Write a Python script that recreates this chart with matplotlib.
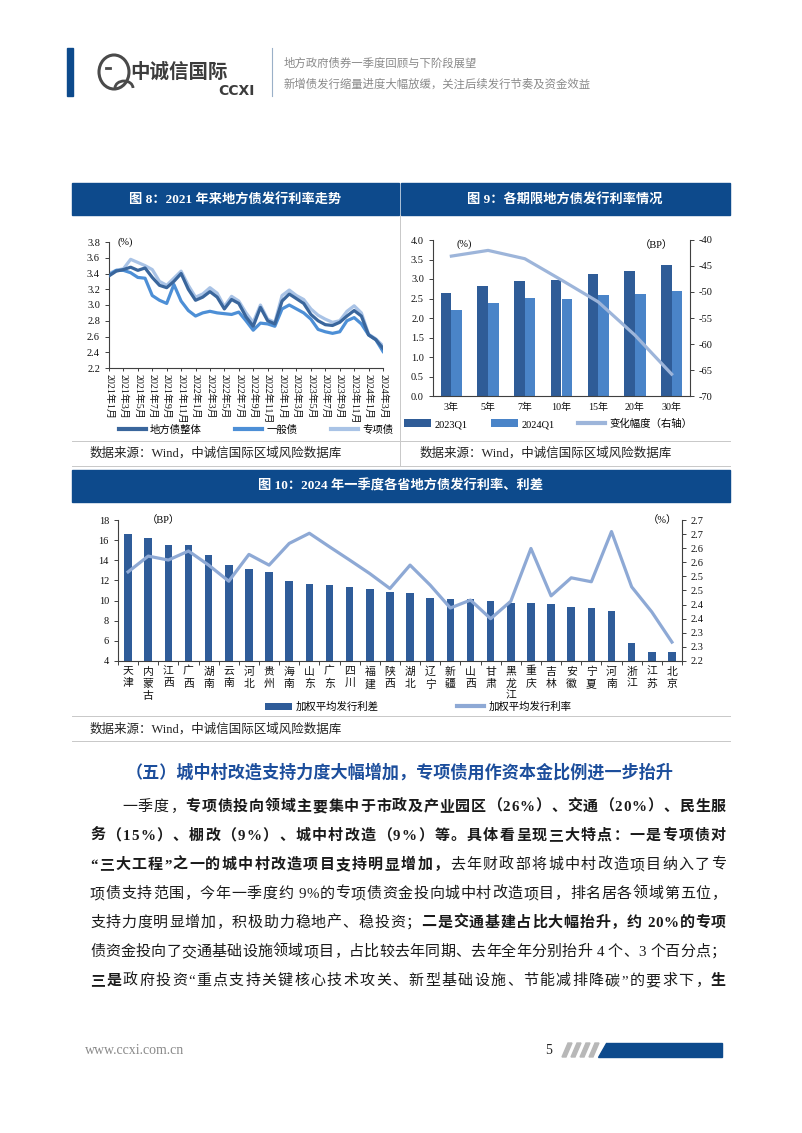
import numpy as np
import matplotlib.pyplot as plt
from matplotlib.patches import Rectangle, Polygon, Ellipse, Arc

plt.rcParams['font.family'] = ['Liberation Serif', 'Noto Sans CJK SC']
plt.rcParams['axes.unicode_minus'] = False

W, H = 802, 1133

# ---- 图8 data (monthly, 2021-01 .. 2024-03)
month_ticks = ['2021年1月', '2021年3月', '2021年5月', '2021年7月', '2021年9月', '2021年11月',
               '2022年1月', '2022年3月', '2022年5月', '2022年7月', '2022年9月', '2022年11月',
               '2023年1月', '2023年3月', '2023年5月', '2023年7月', '2023年9月', '2023年11月',
               '2024年1月', '2024年3月']
rate_all = [3.37, 3.43, 3.45, 3.48, 3.44, 3.47, 3.35, 3.25, 3.22, 3.30, 3.40, 3.20,
            3.06, 3.10, 3.17, 3.10, 2.95, 3.07, 3.02, 2.85, 2.73, 2.97, 2.80, 2.76,
            3.05, 3.14, 3.08, 3.02, 2.88, 2.80, 2.75, 2.74, 2.78, 2.86, 2.93, 2.86,
            2.62, 2.56, 2.45]
rate_general = [3.38, 3.44, 3.44, 3.41, 3.35, 3.34, 3.12, 3.06, 3.02, 3.26, 3.05, 2.93,
                2.86, 2.90, 2.92, 2.90, 2.89, 2.88, 2.91, 2.80, 2.68, 2.77, 2.76, 2.73,
                2.95, 3.00, 2.95, 2.90, 2.82, 2.69, 2.66, 2.64, 2.66, 2.80, 2.84, 2.76,
                2.62, 2.56, 2.41]
rate_special = [3.40, 3.44, 3.46, 3.58, 3.54, 3.50, 3.45, 3.30, 3.25, 3.34, 3.43, 3.25,
                3.10, 3.14, 3.22, 3.15, 2.98, 3.11, 3.05, 2.90, 2.78, 3.00, 2.82, 2.78,
                3.12, 3.19, 3.12, 3.07, 2.95, 2.87, 2.82, 2.78, 2.80, 2.92, 2.99, 2.90,
                2.63, 2.57, 2.48]

# ---- 图9 data
terms = ['3年', '5年', '7年', '10年', '15年', '20年', '30年']
rate_2023q1 = [2.63, 2.81, 2.95, 2.98, 3.12, 3.20, 3.35]
rate_2024q1 = [2.20, 2.38, 2.51, 2.50, 2.60, 2.61, 2.69]
change_bp = [-43.1, -42.0, -43.6, -47.7, -51.9, -58.3, -65.8]

# ---- 图10 data
provinces = ['天津', '内蒙古', '江西', '广西', '湖南', '云南', '河北', '贵州', '海南', '山东',
             '广东', '四川', '福建', '陕西', '湖北', '辽宁', '新疆', '山西', '甘肃', '黑龙江',
             '重庆', '吉林', '安徽', '宁夏', '河南', '浙江', '江苏', '北京']
spread_bp = [16.6, 16.2, 15.5, 15.5, 14.5, 13.5, 13.1, 12.85, 11.95, 11.65,
             11.5, 11.3, 11.1, 10.9, 10.8, 10.25, 10.2, 10.15, 10.0, 9.75,
             9.75, 9.7, 9.4, 9.3, 8.95, 5.8, 4.9, 4.9]
issue_rate = [2.516, 2.572, 2.558, 2.590, 2.540, 2.483, 2.578, 2.540, 2.617, 2.653,
              2.605, 2.558, 2.510, 2.457, 2.540, 2.469, 2.388, 2.416, 2.350, 2.412,
              2.599, 2.431, 2.495, 2.481, 2.659, 2.463, 2.374, 2.267]
right_ticks = [2.20, 2.25, 2.30, 2.35, 2.40, 2.45, 2.50, 2.55, 2.60, 2.65, 2.70]
right_labels = ['2.2', '2.3', '2.3', '2.4', '2.4', '2.5', '2.5', '2.6', '2.6', '2.7', '2.7']

BLUE = '#0d4a8c'
AXC = '#404040'

fig = plt.figure(figsize=(W / 100, H / 100), dpi=100)
page = fig.add_axes([0, 0, 1, 1])
page.set_xlim(0, W)
page.set_ylim(H, 0)
page.axis('off')


def px_axes(l, t, r, b):
    return fig.add_axes([l / W, 1 - b / H, (r - l) / W, (b - t) / H])


def style(ax, fs=7.5):
    for s in ['top', 'right']:
        ax.spines[s].set_visible(False)
    for s in ['left', 'bottom']:
        ax.spines[s].set_color(AXC)
        ax.spines[s].set_linewidth(0.8)
    ax.tick_params(labelsize=fs, colors='#111111', length=3, width=0.7)
    ax.tick_params(axis='both', color=AXC)


# ---------------- header
page.add_patch(Rectangle((67, 48), 6, 48, color=BLUE))
page.add_patch(Ellipse((114, 72), 30, 34, fill=False, lw=2.2, ec='#4a4a4a'))
page.add_patch(Arc((124, 88), 18, 14, theta1=180, theta2=360, lw=2.0, ec='#4a4a4a'))
page.plot([106, 110], [68, 68], color='#4a4a4a', lw=2)
page.text(130, 72, '中诚信国际', fontsize=14, fontweight='bold', color='#3c3c3c',
          va='center', ha='left', family='Noto Sans CJK SC')
page.text(255, 91, 'CCXI', fontsize=10, fontweight='bold', color='#3c3c3c',
          va='center', ha='right', family='DejaVu Sans')
page.plot([272, 272], [48, 96], color='#9ab0c8', lw=0.8)
page.text(284, 63, '地方政府债券一季度回顾与下阶段展望', fontsize=8.2, color='#8a8a8a',
          va='center', family='Noto Sans CJK SC')
page.text(284, 84, '新增债发行缩量进度大幅放缓，关注后续发行节奏及资金效益', fontsize=8.2,
          color='#8a8a8a', va='center', family='Noto Sans CJK SC')

# ---------------- title bars
page.add_patch(Rectangle((72, 183), 327, 32, color=BLUE))
page.add_patch(Rectangle((401, 183), 329, 32, color=BLUE))
page.add_patch(Rectangle((72, 470), 658, 32, color=BLUE))
page.text(235, 199, '图 8：2021 年来地方债发行利率走势', color='white', fontsize=9.5,
          fontweight='bold', ha='center', va='center')
page.text(565, 199, '图 9：各期限地方债发行利率情况', color='white', fontsize=9.5,
          fontweight='bold', ha='center', va='center')
page.text(401, 486, '图 10：2024 年一季度各省地方债发行利率、利差', color='white', fontsize=9.5,
          fontweight='bold', ha='center', va='center')

# dividers and sources
page.plot([400, 400], [215, 466], color='#c8c8c8', lw=0.7)
for yy in [441, 466, 716, 741]:
    page.plot([72, 730], [yy, yy], color='#c8c8c8', lw=0.7)
src = '数据来源：Wind，中诚信国际区域风险数据库'
page.text(90, 453, src, fontsize=9, color='#222222', va='center')
page.text(420, 453, src, fontsize=9, color='#222222', va='center')
page.text(90, 729, src, fontsize=9, color='#222222', va='center')

# ---------------- 图8
ax8 = px_axes(109, 242, 383, 368)
x = np.arange(len(rate_all))
ax8.plot(x, rate_all, color='#3a669c', lw=2.3, label='地方债整体', zorder=3)
ax8.plot(x, rate_general, color='#4d8fd6', lw=2.3, label='一般债', zorder=2)
ax8.plot(x, rate_special, color='#a9c3e6', lw=2.3, label='专项债', zorder=1)
ax8.set_xlim(0, len(rate_all) - 1)
ax8.set_ylim(2.2, 3.8)
ax8.set_yticks(np.arange(2.2, 3.81, 0.2))
ax8.set_yticklabels([f'{v:.1f}' for v in np.arange(2.2, 3.81, 0.2)])
ax8.set_xticks(x[::2])
ax8.set_xticklabels(month_ticks, rotation=-90)
style(ax8, 7.5)
ax8.tick_params(axis='x', length=2, pad=2, labelsize=7.2)
ax8.text(0.03, 1.0, '(%)', transform=ax8.transAxes, fontsize=7.5, va='center')
handles, labels = ax8.get_legend_handles_labels()
fig.legend(handles, labels, loc='center', bbox_to_anchor=(256 / W, 1 - 430 / H),
           ncol=3, frameon=False, fontsize=7.5, handlelength=2.6, columnspacing=3.2,
           handletextpad=0.4)
for h in fig.legends[-1].get_lines():
    h.set_linewidth(3)

# ---------------- 图9
ax9 = px_axes(433, 240, 690, 396)
gx = np.arange(len(terms))
bw = 0.29
ax9.bar(gx - bw / 2, rate_2023q1, width=bw, color='#2f5c97', label='2023Q1')
ax9.bar(gx + bw / 2, rate_2024q1, width=bw, color='#4a84c8', label='2024Q1')
ax9.set_xlim(-0.5, len(terms) - 0.5)
ax9.set_ylim(0, 4.0)
ax9.set_yticks(np.arange(0, 4.01, 0.5))
ax9.set_yticklabels([f'{v:.1f}' for v in np.arange(0, 4.01, 0.5)])
ax9.set_xticks(gx)
ax9.set_xticklabels(terms)
style(ax9, 7.5)
ax9.tick_params(axis='x', length=0, pad=5, labelsize=7.2)
ax9b = ax9.twinx()
ax9b.plot(gx, change_bp, color='#9db5da', lw=2.3, label='变化幅度（右轴）')
ax9b.set_ylim(-70, -40)
ax9b.set_yticks(np.arange(-70, -39, 5))
for s in ['top', 'left', 'bottom']:
    ax9b.spines[s].set_visible(False)
ax9b.spines['right'].set_color(AXC)
ax9b.spines['right'].set_linewidth(0.8)
ax9b.tick_params(labelsize=7.5, length=3, width=0.7, color=AXC, colors='#111111')
ax9b.tick_params(axis='y', color=AXC)
ax9.text(0.09, 0.97, '(%)', transform=ax9.transAxes, fontsize=7.5, va='center')
ax9.text(0.87, 0.97, '（BP）', transform=ax9.transAxes, fontsize=7.5, va='center',
         ha='center')
h1, l1 = ax9.get_legend_handles_labels()
h2, l2 = ax9b.get_legend_handles_labels()
leg9 = fig.legend(h1 + h2, l1 + l2, loc='center', bbox_to_anchor=(548 / W, 1 - 424 / H),
                  ncol=3, frameon=False, fontsize=7.5, handlelength=2.6, handleheight=0.8,
                  columnspacing=2.2, handletextpad=0.4)
for h in leg9.get_lines():
    h.set_linewidth(3)

# ---------------- 图10
ax10 = px_axes(118, 520, 682, 661)
px = np.arange(len(provinces))
ax10.bar(px, spread_bp, width=0.38, color='#2f5c99', label='加权平均发行利差')
ax10.set_xlim(-0.5, len(provinces) - 0.5)
ax10.set_ylim(4, 18)
ax10.set_yticks(np.arange(4, 19, 2))
ax10.set_xticks(px)
ax10.set_xticklabels(['\n'.join(p) for p in provinces], linespacing=1.3)
style(ax10, 7.5)
ax10.tick_params(axis='x', length=0, pad=4, labelsize=7.8)
ax10.set_xticks(np.arange(-0.5, len(provinces), 1), minor=True)
ax10.tick_params(axis='x', which='minor', length=3, width=0.7, color=AXC)
ax10b = ax10.twinx()
ax10b.plot(px, issue_rate, color='#8ea9d5', lw=2.3, label='加权平均发行利率')
ax10b.set_ylim(2.2, 2.7)
ax10b.set_yticks(right_ticks)
ax10b.set_yticklabels(right_labels)
for s in ['top', 'left', 'bottom']:
    ax10b.spines[s].set_visible(False)
ax10b.spines['right'].set_color(AXC)
ax10b.spines['right'].set_linewidth(0.8)
ax10b.tick_params(labelsize=7.5, length=3, width=0.7, color=AXC, colors='#111111')
ax10.text(0.08, 1.0, '（BP）', transform=ax10.transAxes, fontsize=7.5, va='center',
          ha='center')
ax10.text(0.965, 1.0, '（%）', transform=ax10.transAxes, fontsize=7.5, va='center',
          ha='center')
h1, l1 = ax10.get_legend_handles_labels()
h2, l2 = ax10b.get_legend_handles_labels()
leg10 = fig.legend(h1 + h2, l1 + l2, loc='center', bbox_to_anchor=(418 / W, 1 - 707 / H),
                   ncol=2, frameon=False, fontsize=7.5, handlelength=2.6, handleheight=0.7,
                   columnspacing=7.5, handletextpad=0.4)
for h in leg10.get_lines():
    h.set_linewidth(3)

# ---------------- section heading and body text
page.text(400, 773, '（五）城中村改造支持力度大幅增加，专项债用作资本金比例进一步抬升',
          fontsize=12.3, fontweight='bold', color='#1c4e9c', ha='center', va='center',
          family='Noto Sans CJK SC')

body = [
    (122, [('一季度，', False), ('专项债投向领域主要集中于市政及产业园区（26%）、交通（20%）、民生服', True)]),
    (90, [('务（15%）、棚改（9%）、城中村改造（9%）等。具体看呈现三大特点：一是专项债对', True)]),
    (90, [('“三大工程”之一的城中村改造项目支持明显增加，', True), ('去年财政部将城中村改造项目纳入了专', False)]),
    (90, [('项债支持范围，今年一季度约 9%的专项债资金投向城中村改造项目，排名居各领域第五位，', False)]),
    (90, [('支持力度明显增加，积极助力稳地产、稳投资；', False), ('二是交通基建占比大幅抬升，约 20%的专项', True)]),
    (90, [('债资金投向了交通基础设施领域项目，占比较去年同期、去年全年分别抬升 4 个、3 个百分点；', False)]),
    (90, [('三是', True), ('政府投资“重点支持关键核心技术攻关、新型基础设施、节能减排降碳”的要求下，', False), ('生', True)]),
]
line_y = [806, 835, 864, 893, 922, 951, 980]

renderer = fig.canvas.get_renderer()
cache = {}


def measure(ch, bold, fs):
    key = (ch, bold)
    if key in cache:
        return cache[key]
    kw = dict(fontsize=fs, fontweight='bold' if bold else 'normal')

    def wid(s):
        t = page.text(0, 0, s, **kw)
        w = t.get_window_extent(renderer).width
        t.remove()
        return w
    adv = wid('I' + ch + 'I') - wid('II')
    cache[key] = adv
    return adv


FS = 10.8
for (x0, parts), yy in zip(body, line_y):
    chars = []
    for s, bold in parts:
        for ch in s:
            chars.append((ch, bold, measure(ch, bold, FS)))
    total = sum(c[2] for c in chars)
    gap = max((726 - x0 - total) / (len(chars) - 1), 0)
    xc = x0
    for ch, bold, adv in chars:
        if ch != ' ':
            page.text(xc + adv / 2, yy + 5, ch, fontsize=FS, ha='center', va='baseline',
                      fontweight='bold' if bold else 'normal', color='#1a1a1a')
        xc += adv + gap

# ---------------- footer
page.text(85, 1050, 'www.ccxi.com.cn', fontsize=10, color='#8a8a8a', va='center',
          family='Liberation Serif')
page.text(545, 1050, '5', fontsize=10, color='#222222', va='center', family='Liberation Serif')
for i in range(4):
    xs = 562 + i * 9
    page.add_patch(Polygon([[xs, 1057], [xs + 4, 1057], [xs + 10, 1043], [xs + 6, 1043]],
                           closed=True, color='#b8b8b8'))
page.add_patch(Polygon([[598, 1057], [722, 1057], [722, 1043], [606, 1043]], closed=True,
                       color=BLUE))

fig.savefig('out.png', dpi=100)
